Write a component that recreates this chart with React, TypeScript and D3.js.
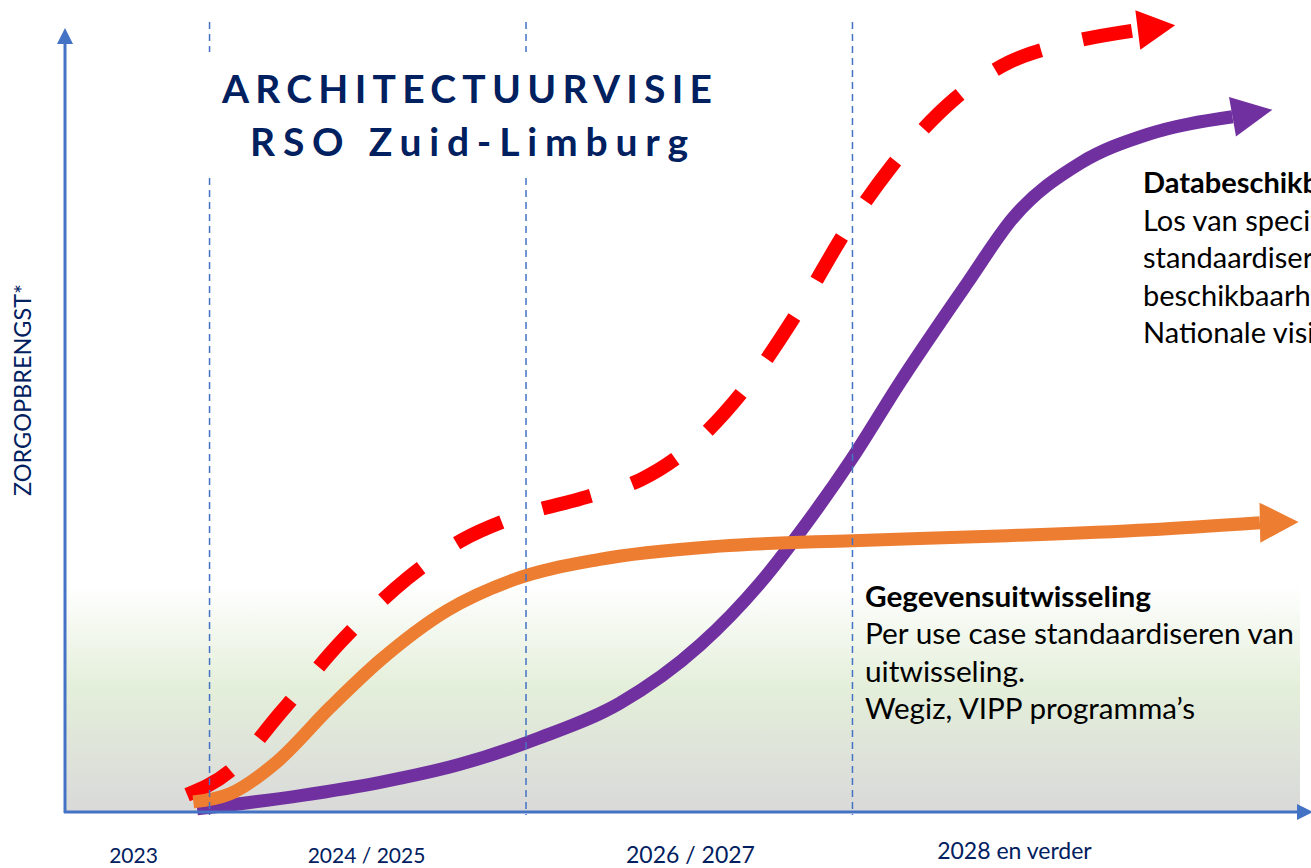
import { useMemo } from "react";
import * as d3 from "d3";

const WIDTH = 1311;
const HEIGHT = 868;
const FONT = "Lato, 'Open Sans', sans-serif";
const NAVY = "#002060";
const AXIS_BLUE = "#4472C4";

// values in chart units: x 0..100 along the time axis, y 0..100 "zorgopbrengst"
const purplePoints: [number, number][] = [
  [10.6, 0.4], [18.9, 2.1], [25.3, 3.8], [31.7, 6.1], [38.1, 9.5],
  [44.5, 13.9], [51.0, 21.4], [55.8, 29.3], [59.6, 37.1], [63.2, 45.3],
  [67.0, 54.9], [72.4, 67.6], [76.1, 76.0], [81.5, 83.0], [86.8, 86.6],
  [93.7, 88.9],
];
const purpleTip: [number, number] = [96.9, 89.8];

const orangePoints: [number, number][] = [
  [10.3, 1.3], [13.2, 2.3], [17.0, 6.4], [21.3, 13.4], [25.3, 19.4],
  [30.7, 25.8], [36.0, 29.7], [42.9, 32.3], [52.6, 34.0], [63.2, 34.7],
  [75.0, 35.3], [87.1, 36.1], [95.9, 37.0],
];
const orangeTip: [number, number] = [99.0, 37.1];

const redPoints: [number, number][] = [
  [9.8, 2.2], [13.2, 5.2], [17.3, 12.7], [22.1, 21.7], [27.5, 29.9],
  [31.9, 34.8], [35.9, 37.6], [41.9, 40.3], [46.2, 42.5], [49.5, 45.8],
  [54.7, 54.4], [58.9, 64.2], [62.7, 74.4], [66.3, 82.5], [71.4, 91.2],
  [75.8, 95.9], [79.9, 98.1], [86.1, 100.0],
];
const redTip: [number, number] = [89.1, 100.6];

const phaseDividers = [11.6, 37.0, 63.2];
const phaseLabels = ["2023", "2024 / 2025", "2026 / 2027", "2028 en verder"];
const phaseLabelX = [5.5, 24.2, 50.2, 76.2];

const titleLines = ["ARCHITECTUURVISIE", "RSO Zuid-Limburg"];
const dataBlock = [
  "Databeschikbaarheid",
  "Los van specifieke use cases",
  "standaardiseren van data",
  "beschikbaarheid van data.",
  "Nationale visie",
];
const exchangeBlock = [
  "Gegevensuitwisseling",
  "Per use case standaardiseren van",
  "uitwisseling.",
  "Wegiz, VIPP programma\u2019s",
];
const exchangeWidths = [286, 429, 160, 330];

export default function App() {
  const xScale = useMemo(() => d3.scaleLinear().domain([0, 100]).range([65, 1311]), []);
  const yScale = useMemo(() => d3.scaleLinear().domain([0, 100]).range([812, 30]), []);

  const line = d3
    .line<[number, number]>()
    .x((d) => xScale(d[0]))
    .y((d) => yScale(d[1]))
    .curve(d3.curveMonotoneX);

  // triangle from the end of the shaft to the tip
  const arrowHead = (pts: [number, number][], tip: [number, number], half = 20) => {
    const last = pts[pts.length - 1];
    const bx = xScale(last[0]);
    const by = yScale(last[1]);
    const tx = xScale(tip[0]);
    const ty = yScale(tip[1]);
    const len = Math.hypot(tx - bx, ty - by);
    const px = -(ty - by) / len;
    const py = (tx - bx) / len;
    return `${tx},${ty} ${bx + px * half},${by + py * half} ${bx - px * half},${by - py * half}`;
  };

  const x0 = xScale(0);
  const y0 = yScale(0);

  return (
    <svg
      width={WIDTH}
      height={HEIGHT}
      style={{ position: "absolute", left: 0, top: 0, display: "block", background: "#fff" }}
    >
      <defs>
        <linearGradient id="bg" x1="0" y1="0" x2="0" y2="1">
          <stop offset="0%" stopColor="#ffffff" />
          <stop offset="45%" stopColor="#E4EFDA" />
          <stop offset="100%" stopColor="#D9D9D9" />
        </linearGradient>
      </defs>

      <rect x={x0} y={585} width={1300 - x0} height={y0 - 585} fill="url(#bg)" />

      {/* curves */}
      <path d={line(purplePoints) ?? ""} fill="none" stroke="#7030A0" strokeWidth={13} />
      <polygon points={arrowHead(purplePoints, purpleTip)} fill="#7030A0" />

      <path
        d={line(redPoints) ?? ""}
        fill="none"
        stroke="#FF0000"
        strokeWidth={14}
        strokeDasharray="50 43"
      />
      <polygon points={arrowHead(redPoints, redTip)} fill="#FF0000" />

      <path d={line(orangePoints) ?? ""} fill="none" stroke="#ED7D31" strokeWidth={13} />
      <polygon points={arrowHead(orangePoints, orangeTip)} fill="#ED7D31" />

      {/* phase dividers */}
      {phaseDividers.map((v, i) => (
        <line
          key={i}
          x1={xScale(v)}
          x2={xScale(v)}
          y1={22}
          y2={815}
          stroke={AXIS_BLUE}
          strokeWidth={1.5}
          strokeDasharray="7 5"
        />
      ))}

      {/* title */}
      <rect x={150} y={52} width={640} height={126} fill="#fff" />
      <text
        x={222}
        y={103}
        fontFamily={FONT}
        fontWeight={700}
        fontSize={39}
        fill={NAVY}
        textLength={490}
        lengthAdjust="spacing"
      >
        {titleLines[0]}
      </text>
      <text
        x={250}
        y={156}
        fontFamily={FONT}
        fontWeight={700}
        fontSize={39}
        fill={NAVY}
        textLength={438}
        lengthAdjust="spacing"
      >
        {titleLines[1]}
      </text>

      {/* axes */}
      <line x1={x0} x2={x0} y1={y0 + 1} y2={42} stroke={AXIS_BLUE} strokeWidth={3} />
      <polygon points={`${x0 - 8},44 ${x0 + 8},44 ${x0},28`} fill={AXIS_BLUE} />
      <line x1={x0 - 1} x2={1300} y1={y0} y2={y0} stroke={AXIS_BLUE} strokeWidth={3} />
      <polygon points={`1297,${y0 - 8} 1297,${y0 + 8} 1313,${y0}`} fill={AXIS_BLUE} />

      <text
        transform={`translate(31, 390) rotate(-90)`}
        textAnchor="middle"
        fontFamily={FONT}
        fontSize={24}
        fill={NAVY}
        textLength={212}
        lengthAdjust="spacingAndGlyphs"
      >
        ZORGOPBRENGST*
      </text>

      {phaseLabels.map((label, i) => (
        <text
          key={label}
          x={xScale(phaseLabelX[i])}
          y={i === 3 ? 859 : 863}
          textAnchor="middle"
          fontFamily={FONT}
          fontSize={i >= 2 ? 23 : 21}
          fill={NAVY}
        >
          {label}
        </text>
      ))}

      {/* annotations */}
      {dataBlock.map((t, i) => (
        <text
          key={t}
          x={1143}
          y={193 + i * 37.5}
          fontFamily={FONT}
          fontWeight={i === 0 ? 700 : 400}
          fontSize={29}
          fill="#000"
        >
          {t}
        </text>
      ))}
      {exchangeBlock.map((t, i) => (
        <text
          key={t}
          x={865}
          y={607 + i * 37.3}
          fontFamily={FONT}
          fontWeight={i === 0 ? 700 : 400}
          fontSize={28}
          fill="#000"
          textLength={exchangeWidths[i]}
          lengthAdjust="spacingAndGlyphs"
        >
          {t}
        </text>
      ))}
    </svg>
  );
}
